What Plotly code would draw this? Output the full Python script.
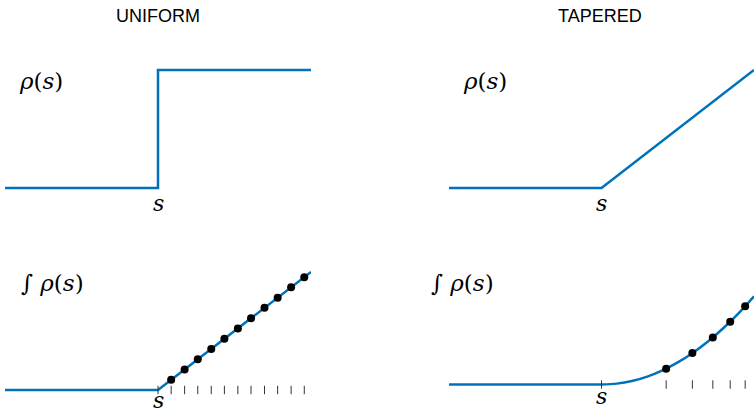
"""Uniform vs tapered density: rho(s) and its integral with equal-area samples."""
import plotly.graph_objects as go

W, H = 754, 413
BLUE = "#0072BD"
TICK = "#333333"

# --- data ---
step_x = [0, 5, 5, 10]
step_y = [0, 0, 1, 1]

ramp_x = [0, 5, 10]
ramp_y = [0, 0, 1]

cum_uniform_x = [0, 5, 10]
cum_uniform_y = [0, 0, 5]
samples_uniform_x = [5.43, 5.87, 6.30, 6.74, 7.17, 7.61, 8.04, 8.48, 8.91, 9.35, 9.78]
samples_uniform_y = [0.43, 0.87, 1.30, 1.74, 2.17, 2.61, 3.04, 3.48, 3.91, 4.35, 4.78]

cum_tapered_flat_x = [0, 5]
cum_tapered_flat_y = [0, 0]
cum_tapered_x = [5, 5.5, 6, 6.5, 7, 7.5, 8, 8.5, 9, 9.5, 10]
cum_tapered_y = [0, 0.025, 0.1, 0.225, 0.4, 0.625, 0.9, 1.225, 1.6, 2.025, 2.5]
samples_tapered_x = [7.12, 7.98, 8.65, 9.22, 9.71]
samples_tapered_y = [0.45, 0.89, 1.33, 1.78, 2.22]

s_pos = 5
titles = ["UNIFORM", "TAPERED"]


def px(x):
    return x / W


def py(y):
    return 1 - y / H


fig = go.Figure()


def line(x, y, ax, shape="linear"):
    fig.add_trace(go.Scatter(
        x=x, y=y, xaxis=ax[0], yaxis=ax[1], mode="lines",
        line=dict(color=BLUE, width=2.5, shape=shape), showlegend=False,
        hoverinfo="skip",
    ))


def dots(x, y, ax):
    fig.add_trace(go.Scatter(
        x=x, y=y, xaxis=ax[0], yaxis=ax[1], mode="markers",
        marker=dict(color="black", size=8), showlegend=False,
    ))


def ticks(x, ax):
    fig.add_trace(go.Scatter(
        x=x, y=[0] * len(x), xaxis=ax[0], yaxis=ax[1], mode="markers",
        marker=dict(symbol="line-ns", size=6, line=dict(color=TICK, width=1)),
        showlegend=False, hoverinfo="skip",
    ))


# top-left: uniform density
line(step_x, step_y, ("x", "y"))
# top-right: tapered density
line(ramp_x, ramp_y, ("x2", "y2"))
# bottom-left: uniform integral
line(cum_uniform_x, cum_uniform_y, ("x3", "y3"))
ticks([s_pos] + samples_uniform_x, ("x3", "y3"))
dots(samples_uniform_x, samples_uniform_y, ("x3", "y3"))
# bottom-right: tapered integral
line(cum_tapered_flat_x, cum_tapered_flat_y, ("x4", "y4"))
line(cum_tapered_x, cum_tapered_y, ("x4", "y4"), shape="spline")
ticks([s_pos] + samples_tapered_x, ("x4", "y4"))
dots(samples_tapered_x, samples_tapered_y, ("x4", "y4"))

hidden = dict(visible=False, showgrid=False, zeroline=False, fixedrange=True)
left_dom = [px(5), px(311)]
right_dom = [px(449), 1.0]
top_dom = [py(225), py(40)]
bot_dom = [0.0, py(245)]

fig.update_layout(
    width=W, height=H,
    margin=dict(l=0, r=0, t=0, b=0),
    paper_bgcolor="white", plot_bgcolor="white",
    xaxis=dict(domain=left_dom, range=[0, 10], anchor="y", **hidden),
    yaxis=dict(domain=top_dom, range=[-0.3136, 1.2542], anchor="x", **hidden),
    xaxis2=dict(domain=right_dom, range=[0, 10], anchor="y2", **hidden),
    yaxis2=dict(domain=top_dom, range=[-0.3136, 1.2542], anchor="x2", **hidden),
    xaxis3=dict(domain=left_dom, range=[0, 10], anchor="y3", **hidden),
    yaxis3=dict(domain=bot_dom, range=[-0.975, 6.144], anchor="x3", **hidden),
    xaxis4=dict(domain=right_dom, range=[0, 10], anchor="y4", **hidden),
    yaxis4=dict(domain=bot_dom, range=[-0.807, 3.952], anchor="x4", **hidden),
)

SANS = dict(family="Liberation Sans", size=18, color="black")
SERIF = dict(family="DejaVu Serif", size=23, color="black")
S_FONT = dict(family="DejaVu Serif", size=22, color="black")

annotations = [
    (158, 16, titles[0], SANS),
    (600, 16, titles[1], SANS),
    (41, 81, "<i>ρ</i>(<i>s</i>)", SERIF),
    (485, 81, "<i>ρ</i>(<i>s</i>)", SERIF),
    (52, 283, "∫ <i>ρ</i>(<i>s</i>)", SERIF),
    (462, 283, "∫ <i>ρ</i>(<i>s</i>)", SERIF),
    (158, 203, "<i>s</i>", S_FONT),
    (601, 203, "<i>s</i>", S_FONT),
    (158, 400, "<i>s</i>", S_FONT),
    (601, 396, "<i>s</i>", S_FONT),
]
for x, y, text, font in annotations:
    fig.add_annotation(
        x=px(x), y=py(y), xref="paper", yref="paper", text=text,
        showarrow=False, font=font, xanchor="center", yanchor="middle",
    )

# drop the browser's default 8px body margin so the figure sits at the page corner
fig.write_html(
    "out.html",
    config={"displayModeBar": False, "staticPlot": True},
    post_script="document.body.style.margin='0';",
)
